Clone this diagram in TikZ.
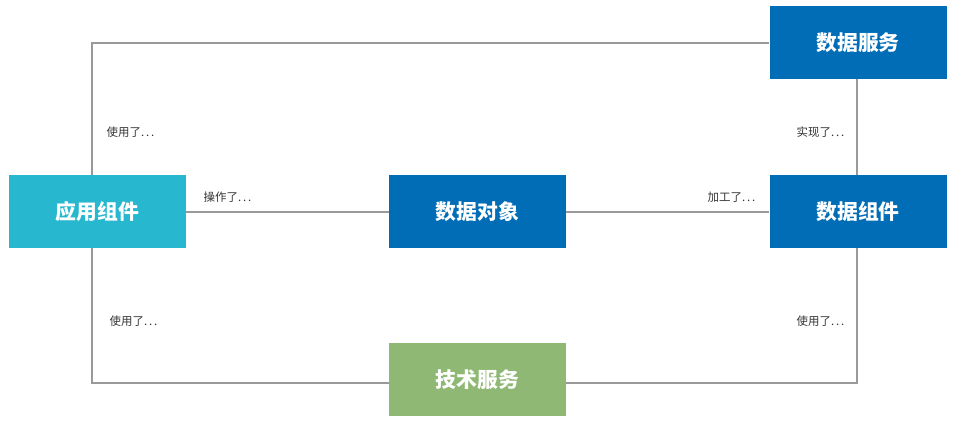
\documentclass[tikz,border=0pt]{standalone}
\usepackage{fontspec}
\setmainfont{Noto Sans CJK SC}
\usetikzlibrary{positioning}

\definecolor{datablue}{HTML}{006DB6}
\definecolor{appcyan}{HTML}{27B8CF}
\definecolor{techgreen}{HTML}{8EB873}
\definecolor{linegray}{HTML}{999999}

\tikzset{
	box/.style={minimum width=132.75pt, minimum height=54.75pt, inner sep=0pt, text=white, font=\bfseries\fontsize{15.6}{18}\selectfont},
	rel/.style={font=\fontsize{8.6}{10}\selectfont, text=black!80},
	link/.style={draw=linegray, line width=1.5pt}
}

\begin{document}
\begin{tikzpicture}[x=0.75pt, y=-0.75pt]
	\useasboundingbox (0,0) rectangle (954,429);

	% Bausteine
	\node[box, fill=datablue] (dsvc) at (858,42.5) {数据服务};
	\node[box, fill=appcyan] (app) at (97.5,211.5) {应用组件};
	\node[box, fill=datablue] (dobj) at (477.5,211.5) {数据对象};
	\node[box, fill=datablue] (dcomp) at (858,211.5) {数据组件};
	\node[box, fill=techgreen] (tech) at (477.5,379.5) {技术服务};

	% Verbindungen
	\draw[link] ([xshift=-4.1pt]app.north) |- (dsvc.west);
	\draw[link] ([xshift=-0.75pt]dsvc.south) -- ([xshift=-0.75pt]dcomp.north);
	\draw[link] (app.east) -- (dobj.west);
	\draw[link] (dobj.east) -- (dcomp.west);
	\draw[link] ([xshift=-4.1pt]app.south) |- ([yshift=-2.6pt]tech.west);
	\draw[link] ([yshift=-2.6pt]tech.east) -| ([xshift=-0.75pt]dcomp.south);

	% Beschriftungen
	\node[rel] (uses1) at (130.5,132) {使用了.\,.\,.};
	\node[rel] (impl) at (820.5,132) {实现了.\,.\,.};
	\node[rel] (oper) at (227.5,197) {操作了.\,.\,.};
	\node[rel] (proc) at (731.5,197) {加工了.\,.\,.};
	\node[rel] (uses2) at (133.5,321) {使用了.\,.\,.};
	\node[rel] (uses3) at (820.5,321) {使用了.\,.\,.};
\end{tikzpicture}
\end{document}
